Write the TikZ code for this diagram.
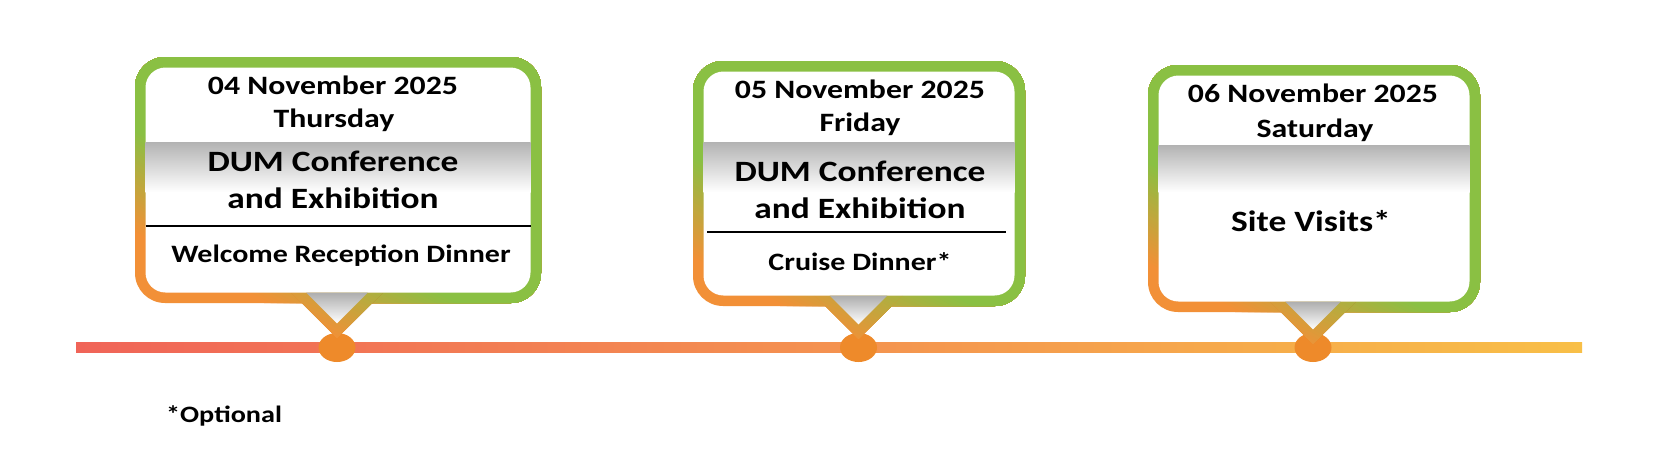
\documentclass[tikz,border=0pt]{standalone}
\usepackage{fontspec}
\setmainfont{Carlito}
\usepackage{graphicx}
\definecolor{bgreen}{RGB}{138,192,67}
\definecolor{borange}{RGB}{242,144,55}
\definecolor{tlred}{RGB}{240,100,88}
\definecolor{tlyellow}{RGB}{248,191,71}
\definecolor{dotorange}{RGB}{238,138,42}
\newcommand\sx[1]{\scalebox{1.2}[1]{#1}}
\newcommand\gradsteps[2]{%
  \fill[borange] (#1-1000,#2-1000) rectangle (#1+1000,#2+1000);
  \foreach \k in {0,...,30}{%
    \pgfmathsetmacro\pp{-45+\k*3}%
    \pgfmathsetmacro\mix{100-\k*100/30}%
    \fill[borange!\mix!bgreen, shift={(#1,#2)}, rotate=62] (\pp,-1000) rectangle (1000,1000);
  }%
}
% #1 Lo #2 Ro #3 To #4 Bo #5 c #6 h #7 pivot x #8 band top #9 band bottom
\newcommand\bubble[9]{%
  \begin{scope}
    \clip[rounded corners=30] (#1,#3) rectangle (#2,#4);
    \gradsteps{#7}{#4}
  \end{scope}
  \begin{scope}
    \clip (#5-#6-12.7,#4-10.5) -- (#5+#6+12.7,#4-10.5) -- (#5,#4+#6+2.17) -- cycle;
    \gradsteps{#7}{#4}
  \end{scope}
  \fill[white, rounded corners=20] (#1+10.5,#3+10.5) rectangle (#2-10.5,#4-10.5);
  \shade[top color=black!30, middle color=black!9, bottom color=white]
    (#1+10.5,#8) rectangle (#2-10.5,#9);
  \shade[top color=black!32, bottom color=white]
    (#5-#6+2.17,#4-10.5) -- (#5+#6-2.17,#4-10.5) -- (#5,#4+#6-12.67) -- cycle;
}
\tikzset{
  lbl/.style={anchor=base, inner sep=0pt, text=black},
  datef/.style={lbl, font=\fontsize{26.5}{30}\selectfont\bfseries},
  mainf/.style={lbl, font=\fontsize{29.5}{33}\selectfont\bfseries},
  subf/.style={lbl, font=\fontsize{25}{29}\selectfont\bfseries},
  sepline/.style={line width=2pt, black},
  dot/.style={fill=dotorange, draw=none}
}
\begin{document}
\begin{tikzpicture}[x=1pt,y=-1pt]
\useasboundingbox (0,0) rectangle (1654,467);
\fill[white] (0,0) rectangle (1654,467);
% timeline
\shade[left color=tlred, right color=tlyellow] (76,342) rectangle (1582,352);
\coordinate (p1) at (337,347.5);
\coordinate (p2) at (858.5,347.5);
\coordinate (p3) at (1313,347.5);
\fill[dot] (p1) ellipse [x radius=18.5, y radius=14.5];
\fill[dot] (p2) ellipse [x radius=18.5, y radius=14.5];
\fill[dot] (p3) ellipse [x radius=18.5, y radius=14.5];
% bubbles
\bubble{135}{541}{57}{303}{337}{33}{360}{142}{192}
\bubble{693}{1025}{61}{306}{858.5}{31}{876}{142}{192}
\bubble{1148}{1480}{65}{312}{1313}{30}{1331}{145}{192}
% separators
\coordinate (s1a) at (145.5,226); \coordinate (s1b) at (530.5,226);
\coordinate (s2a) at (707,232); \coordinate (s2b) at (1006,232);
\draw[sepline] (s1a) -- (s1b);
\draw[sepline] (s2a) -- (s2b);
% texts bubble 1
\node[datef] (d1) at (333,94) {\sx{04 November 2025}};
\node[datef] (w1) at (334,127) {\sx{Thursday}};
\node[mainf] (c1a) at (333,171.5) {\sx{DUM Conference}};
\node[mainf] (c1b) at (333,208) {\sx{and Exhibition}};
\node[subf] (e1) at (341,262.5) {\sx{Welcome Reception Dinner}};
% texts bubble 2
\node[datef] (d2) at (860,98.3) {\sx{05 November 2025}};
\node[datef] (w2) at (860,131.5) {\sx{Friday}};
\node[mainf] (c2a) at (860,181) {\sx{DUM Conference}};
\node[mainf] (c2b) at (860,218) {\sx{and Exhibition}};
\node[subf] (e2) at (860,270.5) {\sx{Cruise Dinner*}};
% texts bubble 3
\node[datef] (d3) at (1313,102.5) {\sx{06 November 2025}};
\node[datef] (w3) at (1315,137) {\sx{Saturday}};
\node[mainf] (e3) at (1311,231.5) {\sx{Site Visits*}};
% note
\node[lbl, font=\fontsize{23.5}{27}\selectfont\bfseries] (opt) at (224,422) {\sx{*Optional}};
\end{tikzpicture}
\end{document}
